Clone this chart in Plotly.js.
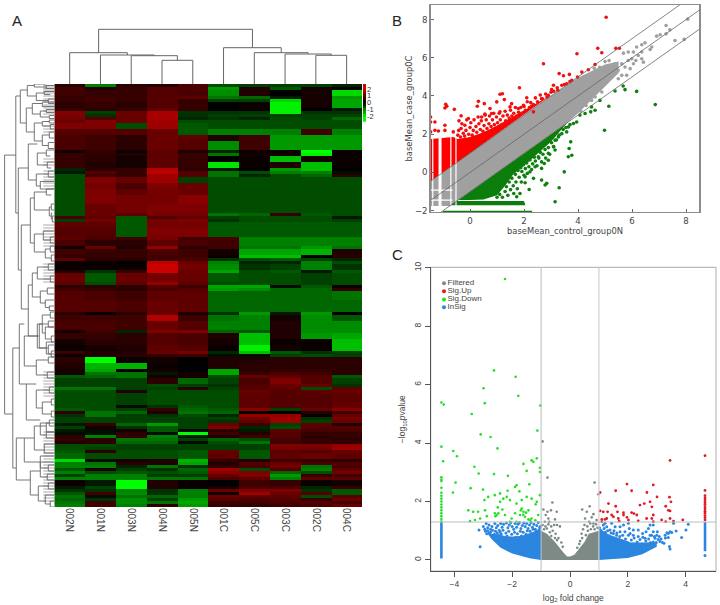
<!DOCTYPE html>
<html><head><meta charset="utf-8">
<script src="https://cdn.plot.ly/plotly-3.0.1.min.js"></script>
<style>html,body{margin:0;padding:0;background:#fff}#c{width:720px;height:605px}</style></head>
<body><div id="c"></div>
<script>
const sampleLabels=['002N','001N','003N','004N','005N','001C','005C','003C','002C','004C'];
// each band: [number of gene rows, ten expression values]
const heatBands=[
[1,[.4,-1,.4,.3,.7,-.6,-.5,-.5,-.5,-.3]],[1,[.6,.3,.5,.8,.7,-1.2,.3,-.7,.2,.1]],[2,[.6,.5,.5,.8,.7,-1.1,.3,0,.2,-1.7]],
[1,[.5,.6,.5,.8,.9,-.9,-.8,-.2,.2,-1.2]],[1,[.5,.6,.5,.8,.5,-.5,-.5,-1.7,.2,-1.3]],[2,[.4,.5,.4,.8,.5,0,.1,-1.9,.2,-1.3]],
[1,[.5,.4,.5,.9,.5,0,.1,-1.9,0,-.2]],[1,[1.2,-.5,1,1.6,-.4,-.4,-.4,-1.9,-.4,-.4]],[1,[1.2,-.4,1,1.6,-.4,-.5,-.5,-.5,-.5,-.5]],
[1,[1.1,.8,1,1.6,-.3,-.4,-.3,-.6,-.5,-.8]],[1,[1,1.2,1,1.5,-.6,-.6,-.6,-.6,-.6,-.6]],[2,[1.2,1.2,-.6,1.5,-.7,-.6,-.6,-.6,-.6,-.6]],
[2,[.8,.8,.8,1,-.7,-1,-1,-1,.6,-1]],[2,[.7,.6,.4,1,.9,.3,.6,-1.2,-1.2,-1.2]],[3,[.7,.6,.4,1,.8,-1.1,.6,-1.2,-1.2,-1.2]],
[1,[.2,.5,.1,.9,.3,-.3,.1,.1,-2,.1]],[1,[.5,.4,.3,.9,.5,-.9,.2,.2,-1.9,.1]],[2,[.5,.4,.2,.9,.5,0,.1,-1.5,.2,.1]],
[2,[.5,.3,.2,.9,.5,-1.8,.1,.3,-1.5,.1]],[1,[-.3,.4,.5,1.7,.4,-.2,0,-1.2,-1.5,0]],[1,[-.2,.8,.5,1.8,.8,-.9,-.6,-1,-1,-.1]],
[1,[-.6,.6,.5,1.5,.8,-.9,-.3,-.6,-.8,.4]],[2,[-.6,1.2,1,1.5,-.5,-.6,-.6,-.6,-.6,-.6]],[2,[-.6,1.1,.7,1.2,1,-.6,-.6,-.6,-.6,-.6]],
[2,[-.6,1.2,.9,1.1,1,-.6,-.6,-.6,-.6,-.6]],[3,[-.6,1.2,1.1,1.1,1.3,-.6,-.6,-.6,-.6,-.6]],[3,[-.6,1,1.1,1.2,1.2,-.6,-.6,-.6,-.6,-.6]],
[1,[-.6,1,.9,1.1,1.1,-.9,-.8,.5,-.7,-.6]],[1,[.7,.9,-.7,.8,.9,-.5,-.6,-.6,-.6,-.2]],[1,[-.5,1.1,-.7,1.1,1.2,-.4,-.6,-.6,-.6,-.5]],
[2,[.9,.9,-.7,1.1,1.1,-.7,-.7,-.7,-.7,-.7]],[3,[.8,.8,-.7,1.2,1.2,-.7,-.7,-.7,-.7,-.7]],[1,[.9,.7,.6,1.1,.6,.7,-1,-1,-1,-1]],
[2,[.7,.4,.4,.9,.7,.6,-1,-1,-1,-1]],[1,[.2,1,.3,1.4,.4,.6,-.9,-.9,-1.2,-.9]],[2,[.6,.5,.5,.7,.6,.2,-1.3,-1.3,-1.4,.3]],
[1,[.5,.5,.5,.6,.6,.1,-1.5,-1.5,0,.4]],[1,[.9,.4,.4,.6,.7,-.4,-.6,-.7,-.5,-.3]],[1,[.1,.1,0,1.8,1,-1,-.3,-.3,-1,-.6]],
[2,[.1,.1,.1,1.9,1.1,-1.1,-.4,-.5,-1,-.4]],[1,[.3,-.4,.5,1.9,1,-1.3,-.6,-.7,-.2,-.7]],[3,[1,-.7,1,1.1,1,-.7,-.6,-.6,-.5,-.6]],
[1,[.9,-.6,.9,1.4,.9,-.6,-.6,-.6,-.5,-.6]],[1,[.4,.4,.4,.8,.6,-1.3,-1.3,-.1,-.7,.1]],[1,[.6,.5,.4,.7,.8,-1.2,-1.1,-.8,-.8,.5]],
[3,[.8,.7,.6,.9,.9,-.8,-.8,-.8,-.8,-.9]],[4,[.8,.8,.7,1,.9,-.8,-.8,-.8,-.8,-.8]],[1,[.4,.1,.4,1,.3,-.4,-1.2,-.2,-1.2,0]],
[2,[.6,.6,.6,1.7,.6,-.9,-1,.2,-1.1,-.7]],[3,[.7,.7,.6,1,.8,-1,-1,.3,-1.1,-1.1]],[1,[.2,.6,-.3,1.2,1.2,-.8,-.7,.3,-1.1,-1.1]],
[2,[.5,.5,.4,.8,.7,.3,-1.5,.3,-1.2,-1.3]],[2,[.2,.4,.4,.8,.7,.2,-1.5,.1,.1,-1.5]],[2,[.1,.2,.3,.9,.8,.1,-1.9,.2,.1,-1.5]],
[1,[.6,.3,.3,1,1.1,-.3,-1.5,-.7,-.4,-.5]],[1,[.1,.3,.4,.5,.6,-.1,-.1,-.5,-.6,-.5]],[2,[.4,-2,.1,.2,0,.3,.3,.4,.4,.4]],
[2,[.3,-1.4,-1.4,.1,0,.3,.4,.4,.4,.4]],[1,[.2,-1.3,.1,.2,0,-1.3,.4,.5,.5,.4]],[1,[.2,-.9,-.9,-.2,.2,-1.3,.5,.7,.6,.4]],
[1,[-.7,-.8,-.9,.2,.2,-.6,1,.9,.8,-.7]],[2,[-.5,-.5,-.5,.4,-.8,-.5,.7,1.2,.8,-.5]],[1,[-.5,-.5,-.5,-.6,-.5,-.4,.8,1,1,-.4]],
[1,[-.9,-.9,-.5,-.5,.4,-.5,.8,.9,-.6,.9]],[1,[-.6,-.6,.3,-.6,-.6,-.6,1,.8,.9,1]],[4,[-.6,-.6,-.5,-.6,-.6,-.6,.9,.8,.8,.9]],
[1,[-.6,-.6,-.1,-.4,-.7,-.6,.9,.8,.8,1]],[1,[-.7,-.6,-.5,.5,-.8,-.7,1.3,-.5,1,1.3]],[1,[.4,-.9,-.8,.3,-.9,-.8,.1,0,.3,.6]],
[1,[-.4,-.9,-.5,-.4,-.6,-.3,1.4,1.4,.1,1]],[1,[-.5,-.5,-.5,-.5,-.5,-.5,1.1,1.5,-.4,1.1]],[1,[-.5,-.5,-.5,-.5,-.5,-.4,.9,1.5,-.5,1]],
[1,[-.2,.5,-.8,-1.2,-.5,1,.6,-.5,.9,.3]],[1,[-.5,.2,-.4,-.7,-.5,1.2,-.3,-.6,.8,.8]],[1,[-.2,-.1,.2,-.7,-.1,.4,-.2,.9,.7,.7]],
[1,[-.1,-.1,.4,-.1,-2,.6,.3,.8,.5,.5]],[1,[.4,-1,.5,-1,-.2,.3,.6,.8,.4,.5]],[1,[.5,.4,-.9,-.9,-.5,-.8,-.6,.7,.5,.4]],
[1,[.3,.4,-.8,-.8,-.1,-.6,-.9,.6,.5,.5]],[1,[-.6,-.6,-.5,-.5,-.5,-.5,-.5,1.2,1.2,1.4]],[1,[-.6,-.5,-.5,-.5,-.5,-.5,-.5,1.1,1.1,1.5]],
[1,[-.7,.4,-.6,-.6,-.7,1,-.7,.9,.8,1]],[2,[-.8,-.6,-.6,-.6,-.7,.9,-.7,.9,1,.9]],[1,[-1.7,-.1,.2,.3,-1.4,.5,.3,.6,.5,.4]],
[1,[-1,-.9,.4,.3,-1.3,.3,.8,1,.7,.8]],[1,[-1,-1,-.3,-.9,-.4,.5,.7,1.1,-.9,.7]],[1,[-.7,.3,-.5,-.4,-.8,1.5,-.6,.8,-1,.9]],
[1,[-1,-.6,-.7,-.6,-.7,1.3,1.2,-.8,-.6,1.1]],[1,[-.5,-1,-1,-.5,-.5,1,1.2,-1.2,.5,.6]],[1,[-1,-1,-1,-.9,-.9,.7,.9,-1,.9,.9]],
[2,[.1,-.2,-2,.3,.1,0,.6,.5,.1,.2]],[1,[-.2,-.5,-2,.3,.1,.2,.7,.7,-.3,.5]],[1,[-.4,-.4,-1,-.4,-1,1,1.2,1.2,-.4,-.7]],
[1,[-.7,.6,-1.1,-.4,-1,.2,1.5,1,.8,-.7]],[1,[-.9,-.1,-.9,-.8,-1,1,.9,.9,-.6,.8]],[1,[-.8,-.4,-1.1,-.5,-1.2,.8,.7,.8,.5,1]],
[1,[-.9,.6,-1.1,-.9,-1.3,.6,.6,.7,.8,.7]],[1,[-1,.6,-1,.4,-1.2,.5,.5,.6,.7,1]]];
const colorbarLevels=[2.6,2.2,1.8,1.4,1,.6,.2,-.2,-.6,-1,-1.4,-1.8,-2.2,-2.6];
const colorbarTicks=[2,1,0,-1,-2];
// sample tree: [height, left position, left child height, right position, right child height]
const sampleTree=[[23.7,3,0,4,0],[28.3,2,0,3.5,23.7],[29,1,0,2.75,28.3],[31.3,0,0,1.875,29],
[28.7,8,0,9,0],[30,7,0,8.5,28.7],[31.3,6,0,7.75,30],[36.3,5,0,6.875,31.3],[54.7,.94,31.3,5.94,36.3]];
// gene tree: [height, top row, top child height, bottom row, bottom child height]
const geneTree=[[49.7,23.7,38.5,110,41.5],[38.5,4,34,43,36],
[34,2,27,13,28],[27,.5,20,4,18],[20,0,8,1,8],[18,3,10,5.5,6],[10,2.5,0,3.5,4],[6,5,0,6.5,0],[8,.5,0,1.5,0],
[28,8,22,16,20],[22,6.5,12,10,14],[12,6,0,7.5,0],[14,9,8,11,5],[8,8.5,0,9.5,0],[5,10.5,0,11.5,0],[20,13,12,19,12],[12,12.5,5,14,4],[5,12,0,13,0],[4,13.5,0,15,0],[12,17,5,20.5,6],[5,16,0,18,0],[6,19.5,0,21.5,0],
[36,28,26,62,33],[26,20,17,32,18],[17,23,8,27,7],[8,22,0,24,4],[7,26,0,28,3],[18,30,6,34,14],[6,29,0,31,0],[14,32.5,0,35,0],
[33,47,24,75,26],[24,38,20,53,20],[20,36,8,42,5],[8,35,0,37,3],[5,41,3,44,3],[3,40,0,42,0],[3,43,2,45,2],[2,44,0,46,0],
[20,50,11,56,9],[11,49,0,52,4],[4,51,0,53,0],[9,55,4,58,3],[4,54,0,56,0],[3,57,0,59,0],
[26,67,22,84,17],[22,63,17,71,14],[17,61,6,65,4],[6,60,0,62,0],[4,64,0,66,0],[14,69,7,73,9],[7,68,0,70,0],[9,72,0,74.5,5],[5,74,0,75.5,0],
[17,80,12,88,6],[12,77,4,83,9],[4,76,0,78,0],[9,81,0,85,3],[3,84,0,86,0],[6,87,0,90,3],[3,89,0,91,0],
[41.5,88,35,128,38],[35,80,30,100,28],[30,84,15,94,18],[15,80,6,88,8],[6,79,0,81,0],[8,86,0,90,0],[18,92,6,97,7],[6,91,0,93,0],[7,96,0,98,0],
[28,100,18,112,14],[18,102,5,108,12],[5,101,0,103,0],[12,106,3,110,3],[3,105,0,107,0],[3,109,0,111,0],[14,113,5,117,8],[5,112,0,114,0],[8,116,0,118,0],
[38,118,30,132,24],[30,118,20,126,14],[20,114,8,122,10],[8,113,0,116,0],[10,120,0,123,0],[14,124,0,128,6],[6,127,0,129,0],
[24,129,14,137,16],[14,126,0,131,7],[7,130,0,132,0],[16,134,6,139,9],[6,133,0,135,0],[9,137,0,140,4],[4,139,0,141,0]];
const geneLeafRows=[0.5,1,1.5,2,2.5,3,4,5,6,7,8,9,10,14,15,16,25,26,27,29,30,31,32,33,34,47,48,49,50,51,52,53,54,60,61,62,63,64,65,66,96,97,98,99,100,101,102,103,104,
116,117,118,119,120,121,122,123,124,125,126,127,128,129,130,131,132,133,134,135,136,137,138,139];
const diagonalLine=[-1.46,8.5];
const foldOffsets=[1,0,-1];
const greyBandOutline=[[-1.46,-.46],[3.2,4.2],[4,4.95],[4.5,5.3],[5,5.65],[5.5,5.8],[5.5,5.2],[5,4.5],[4.5,3.8],[4,3.1],[3.6,2.6],[-.75,-1.75],[-1.46,-1.75]];
const redRegionOutline=[[-1.46,-.46],[-1.46,1.75],[-.62,1.85],[-.45,1.75],[0,1.85],[.5,2.1],[1,2.45],[1.5,2.85],[2,3.25],[2.5,3.65],[3,4.05],[-.2,.8]];
const greenRegionOutline=[[-.75,-1.75],[3.6,2.6],[3,1.6],[2.5,.95],[2,.35],[1.6,-.1],[1.3,-.7],[1,-1.2],[.5,-1.42],[0,-1.44],[-.95,-1.44]];
const greenStripBottom=[[-.7,-1.5],[2,-1.5],[2.05,-1.72],[-.7,-1.72]];
const whiteWideColumn=-1.11;
const whiteColumns=[-1.38,-.71,-.52];
const whiteColumnSpan=[-1.78,1.95];
const whiteRows=[-.93,-1.45];
const whiteRowSpan=[-1.46,-.65];
const lowerStripX=[-1,2.3];
const lowerStripY=-2.05;
const upPointsB=[[5.04,8.12],[3.96,6.21],[4.73,6.5],[4.88,6.26],[5.4,6.5],[5.53,6.5],[2.72,5.69],[3.3,5.17],[3.46,5.06],[3.68,5.13],[3.98,4.99],[4.14,5.25],[4.38,5.37],[4.63,5.65],[1.83,4.43],[1.11,4.09],[1.2,4.12],[3.02,4.33],[3.09,4.56],[3.23,4.43],[3.4,4.56],[3.58,4.64],[3.77,4.82],[-.9,3.57],[-.86,3.46],[-.93,3.37],[-.58,3.3],[.31,3.72],[.27,3.46],[.53,3.6],[.74,3.34],[.99,3.69],[1.27,3.81],[2.1,3.91],[1.54,3.6],[2.65,3.86],[2.9,4.03],[-1.46,2.9],[-1.46,2.64],[-.33,2.96],[-.06,2.82],[-.41,2.7],[-.19,2.47],[-.93,2.47],[-.93,2.2],[-1.3,2.64],[-1.3,2.21],[-1.17,2.17],[-1.46,2.12],[-.62,2.12],[-.33,2.3],[.43,2.9],[.56,3],[.8,3.08],[1.11,3.17],[1.48,3.43],[1.79,3.34],[1.98,3.51],[2.28,3.46],[2.35,3.17],
[-.45,1.95],[-.42,2.2],[-.35,1.85],[-.3,2.55],[-.25,2.05],[-.2,1.9],[-.15,2.2],[-.12,2.75],[-.05,2],[0,2.35],[.03,2.6],[.08,1.95],[.12,2.2],[.15,2.75],[.22,2.4],[.25,2.1],[.3,2.9],[.33,2.55],[.38,2.25],[.42,2.7],[.48,2.15],[.52,2.45],[.55,3.05],[.6,2.75],[.63,2.3],[.7,2.55],[.72,2.95],[.78,2.4],[.83,2.75],[.88,3.1],[.9,2.5],[.98,2.9],[1.02,2.6],[1.08,3.1],[1.12,2.75],[1.18,2.5],[1.22,2.95],[1.3,3.2],[1.32,2.7],[1.38,3],[1.45,2.85],[1.5,3.25],[1.55,2.95],[1.62,3.1],[1.68,3.4],[1.72,2.95],[1.8,3.15],[1.88,3.4],[1.92,3.1],[2,3.45],[2.05,3.25],[2.12,3.7],[2.2,3.4],[2.25,3.65],[2.35,3.55],[2.42,3.9],[2.5,3.7],[2.6,4.05],[2.68,3.85],[2.8,4.1],[2.85,3.95],[3,4.2],[3.1,4.25],[3.25,4.3],[3.5,4.6],[3.7,4.75]];
const downPointsB=[[6.86,3.55],[6.17,4.24],[5.67,4.52],[5.74,4.33],[5.37,4.26],[5.14,3.46],[4.98,2.21],[4.81,3.77],[4.5,3.43],[4.47,3.17],[4.63,3.25],[4.26,3.08],[4.07,3],[3.73,1.6],[3.67,1.25],[3.77,.9],[3.64,.82],[3.49,.03],[3.3,-.8],[3.15,-1.53],[2.84,-.57],[2.78,-.66],[2.65,-.4],[2.35,-.31],[2.04,-.54],[2.19,-.89],[1.85,-1.1],[1.73,-1.27],[3.15,1.17],[2.9,1],[2.9,.64],[2.75,.47],[2.65,.21],[3.27,1.86],[3.15,1.69],[3.4,2.03],[3.58,2.12],[3.64,2.38],[3.83,2.56],[3.95,2.64],[3.09,1.34],[2.53,.82],[2.41,.3],[2.22,.03],[2.04,-.23],
[1,-1.3],[1.1,-1.15],[1.2,-1.3],[1.3,-1],[1.35,-.75],[1.4,-1.2],[1.45,-.5],[1.5,-.9],[1.55,-.3],[1.6,-.7],[1.62,-1.1],[1.68,-.1],[1.7,-.5],[1.75,-.85],[1.78,.1],[1.82,-.25],[1.88,.25],[1.9,-.5],[1.92,.05],[1.98,.4],[2,-.15],[2.05,.2],[2.1,.5],[2.12,-.05],[2.18,.3],[2.22,.65],[2.28,.15],[2.32,.45],[2.38,.8],[2.42,.6],[2.48,.35],[2.55,.75],[2.6,1.05],[2.65,.55],[2.7,.95],[2.78,1.2],[2.8,.75],[2.9,1.3],[2.95,.95],[3.02,1.55],[3.1,1.35],[3.2,1.7],[3.3,1.95],[3.45,2.25],[3.55,2.35],[3.7,2.5]];
const greyPointsB=[[8.06,8.02],[7.26,7.69],[7.4,7.46],[7.26,7.25],[7.04,7.2],[6.91,7.13],[7.93,6.96],[7.59,6.9],[6.48,6.78],[6.36,6.68],[6.17,6.56],[6.73,6.56],[6.67,6.43],[5.86,6.3],[6.05,6.3],[6.36,6.3],[5.68,6.24],[6.23,6.12],[5.99,5.95],[6.36,5.95],[6.14,5.86],[6.42,5.77],[5.86,5.86],[5.62,5.69],[5.37,5.69],[5.74,5.51],[5.49,5.34],[5.25,5.6],[5.93,5.43],[6.05,5.69],[5.37,5.17],[5.62,5.08],[5.8,5.08],[5.49,4.9],[5.25,4.99],[5,4.64],[4.88,4.21],[4.63,3.95],[4.5,3.77],[5.15,5.85],[5,5.8],[4.8,5.5],[4.6,5.45],[4.3,3.5],[4.1,3.2]];
const greyRegionC=[[-1,0],[1,0],[1,1],[.65,.9],[.5,.62],[.3,.36],[.15,.18],[0,.12],[-.1,.12],[-.2,.22],[-.35,.42],[-.55,.65],[-.8,.9],[-1,1]];
const blueLeftC=[[-1,0],[-1.4,.06],[-2,.22],[-2.4,.42],[-2.7,.7],[-2.85,.9],[-2.5,.88],[-2.2,.8],[-1.9,.8],[-1.6,.85],[-1.3,.95],[-1,1.05]];
const blueRightC=[[1,0],[2,.07],[2.5,.2],[3,.45],[3,.6],[2.5,.6],[2.1,.6],[1.7,.75],[1.4,.85],[1.2,.95],[1,1.1]];
const greyPointsC=[[-.95,4.06],[-.78,2.82],[.85,2.65],[.98,2.25],[-.61,1.97],[.68,1.84],[.42,1.73],[.58,1.65],[.81,1.57],[-.92,1.73],[-.78,1.65],[-.66,1.7],[-.46,1.65],[-.84,1.54],[-.75,1.42],[-.87,1.31],[-.72,1.31],[-.52,1.39],[.52,1.42],[.75,1.46],[.92,1.37],[.66,1.31],[.81,1.25],[-.95,1.2],[-.85,1.15],[-.75,1.22],[-.65,1.15],[-.55,1.2],[-.45,1.2],[-.35,1.15],[-.6,1],[-.5,.9],[-.4,.75],[-.3,.6],[.35,.65],[.4,.9],[.45,1.05],[.5,1.2],[.6,1.15],[.7,1.25],[.8,1.15],[.9,1.22],[.95,1.1],[-.9,1.05],[-.7,.95],[-.65,.82],[-.52,.75],[-.45,.68],[-.25,.45],[.25,.42],[.32,.55],[.42,.75],[.55,.85],[.62,1],[.72,1.05],[.85,1.05],[-.8,1.08]];
const redPointsC=[[4.67,3.57],[3.46,3.41],[1.97,2.6],[2.88,2.57],[1.58,2.37],[2.13,2.37],[1.04,2.31],[2.66,2.31],[3.01,2.16],[3.44,2.15],[3.49,1.99],[2.42,1.88],[2.57,1.93],[2.77,1.99],[2.83,1.82],[3.31,1.84],[3.4,1.7],[3.46,1.68],[1.33,1.93],[1.58,1.84],[1.04,1.68],[1.15,1.65],[1.3,1.65],[1.64,1.65],[1.85,1.62],[1.85,1.54],[2.13,1.62],[2.21,1.59],[2.31,1.54],[1.44,1.54],[1.5,1.48],[1.97,1.46],[1.67,1.42],[1.1,1.39],[1.21,1.39],[1.27,1.42],[2.65,1.42],[2.88,1.54],[2.83,1.42],[3.17,1.37],[3.46,1.42],[3.58,1.33],[3.9,1.37],[3.31,1.31],[2.88,1.31],[2.36,1.34],[2.02,1.37],[1.7,1.33],[1.1,1.31],[4.67,2.38],[4.67,2.2],[4.67,2.12],[4.67,2.05],[4.67,1.97],[4.67,1.9],[4.67,1.82],[4.67,1.75],[4.67,1.67],[4.67,1.6],[4.67,1.52],[4.67,1.45],[4.67,1.37]];
const greenPointsC=[[-2.25,9.62],[-2.63,6.49],[-1.88,6.27],[-2.99,5.88],[-1.79,5.62],[-2.95,5.37],[-4.45,5.39],[-4.37,5.32],[-1.03,5.29],[-3.4,5],[-1.13,4.43],[-3.09,4.3],[-2.75,4.21],[-2.51,3.82],[-4.45,3.88],[-4.04,3.73],[-3.91,3.55],[-4.39,3.38],[-1.33,3.41],[-1.27,3.36],[-1.15,3.48],[-1.61,3.29],[-3.31,3.19],[-1.5,3.05],[-1.04,3.16],[-1.04,3.01],[-3.16,2.96],[-2.63,2.94],[-2.15,2.88],[-3.96,2.65],[-1.41,2.59],[-1.85,2.56],[-1.9,2.5],[-3.44,2.46],[-3.01,2.41],[-4.05,2.31],[-2.16,2.37],[-1.75,2.35],[-2.6,2.22],[-2.42,2.28],[-2.31,2.1],[-2.19,2.16],[-2.08,2.05],[-2.96,2.05],[-2.83,2.16],[-2.42,1.99],[-1.5,2.16],[-1.33,2.1],[-1.04,2.22],[-1.15,1.99],[-1.19,1.91],[-2.5,1.8],[-2.34,1.73],[-1.85,1.93],[-1.67,2.05],[-3.52,1.7],[-3.35,1.65],[-3.18,1.65],[-2.94,1.7],[-2.6,1.6],[-2.54,1.54],[-2.25,1.54],[-1.9,1.6],[-1.67,1.76],[-1.61,1.65],[-1.44,1.7],[-1.73,1.54],[-1.56,1.48],[-1.33,1.42],[-1.1,1.54],[-3.46,1.33],[-3.29,1.37],[-3.11,1.42],[-2.88,1.5],[-2.02,1.42],[-1.85,1.31],[-1.44,1.39],[-2.08,1.31],[-1.62,1.55],[-1.52,1.62],[-1.7,1.7],[-2.58,1.5],[-2.48,1.6],[-1.2,1.36],[-1.38,1.36],[-4.45,2.83],[-4.45,2.75],[-4.45,2.7],[-4.45,2.47],[-4.45,2.3],[-4.45,2.2],[-4.45,2.1],[-4.45,2],[-4.45,1.9],[-4.45,1.8],[-4.45,1.7],[-4.45,1.6],[-4.45,1.5],[-4.45,1.4],[-4.45,1.32]];
const bluePointsC=[[-3.15,1.03],[-3.11,.45],[-3,1.15],[-2.95,1.05],[-2.9,1.25],[-2.85,1.1],[-2.8,1.2],[-2.75,1.05],[-2.7,1.15],[-2.6,1.25],[-2.55,1.1],[-2.5,1.18],[-2.45,1.02],[-2.4,1.25],[-2.35,1.12],[-2.3,1.22],[-2.2,1.27],[-2.15,1.1],[-2.1,1.2],[-2.05,1.28],[-2,1.15],[-1.95,1.05],[-1.9,1.25],[-1.85,1.12],[-1.8,1.22],[-1.75,1.28],[-1.7,1.08],[-1.65,1.18],[-1.6,1.27],[-1.55,1.15],[-1.5,1.25],[-1.45,1.08],[-1.4,1.2],[-1.35,1.28],[-1.3,1.12],[-1.25,1.22],[-1.2,1.05],[-1.15,1.18],[-1.1,1.28],[-1.05,1.1],[4.09,1.22],[4.01,1.03],[3.86,.77],[3.67,.99],[3.58,1.26],[3.46,.97],[3.4,.91],[3.52,.94],[3.44,.46],[3.46,.38],[3.25,.57],[3.09,.8],[3.02,.97],[2.88,1.2],[2.77,1.2],[2.71,1.08],[2.63,.97],[2.51,.91],[2.36,1.03],[2.19,1.03],[2.05,1.08],[2.02,1.26],[1.85,1.2],[1.73,1.14],[1.56,1.14],[1.44,1.26],[1.38,1.03],[1.21,1.26],[1.27,1.14],[1.15,1.2],[3.4,.77],[3.35,.93],[3.29,.85],[3.11,.63],[2.94,.74],[2.88,.97],[2.77,.85],[2.6,.74],[2.36,.8],[2.19,.85],[2.08,.91],[1.9,.97],[1.73,.97],[1.61,.85],[1.5,.91],[4.67,.15],
[-2.92,.98],[-2.88,.9],[-2.85,1],[-2.8,.92],[-2.75,.95],[-2.72,.82],[-2.68,1.02],[-2.62,.88],[-2.58,.98],[-2.52,.92],[-2.48,.84],[-2.42,.95],[-2.38,.88],[-2.32,1.02],[-2.28,.78],[-2.22,.92],[-2.18,.82],[-2.12,.98],[-2.08,.75],[-2.02,.88],[-1.98,.7],[-1.92,.95],[-1.88,.78],[-1.82,.9],[-1.78,.72],[-1.72,.98],[-1.68,.82],[-1.62,.95],[-1.58,.75],[-1.52,.88],[-1.48,1],[-1.42,.85],[-1.38,.98],[-1.32,.9],[-1.28,1.05],[-1.22,.88],[-1.18,.98],[-1.12,.92],[-1.08,1.02],[-1.03,1.15],[-2.45,.62],
[1.02,1.1],[1.08,1],[1.12,.88],[1.18,1.08],[1.22,.95],[1.3,1],[1.35,.82],[1.42,.92],[1.47,.75],[1.52,1],[1.58,.7],[1.62,.92],[1.68,.65],[1.72,.8],[1.78,.6],[1.82,.85],[1.88,.55],[1.92,.72],[1.98,.6],[2.02,.85],[2.08,.5],[2.12,.68],[2.18,.55],[2.22,.75],[2.28,.5],[2.32,.62],[2.38,.5],[2.42,.7],[2.48,.55],[2.52,.78],[2.58,.5],[2.62,.65],[2.68,.55],[2.72,.72],[2.78,.6],[2.82,.85],[2.88,.62],[2.92,.8],[2.98,.6],[3.05,.7],[3.15,.72],[3.2,.6],[3,.85],[3.3,.75]];
const blueColumnLeft=[-4.45,.05,1.3];
const blueColumnRight=[4.67,.3,1.3];
const legendNames=['Filtered','Sig.Up','Sig.Down','InSig'];
const legendY=[9.47,9.2,8.92,8.65];
const legendX=-4.36;
const cutoffLog2=[-1,1];
const cutoffP=1.3;

const W=720,H=605;
const dx=(a,b)=>[a/W,b/W], dy=(t,b)=>[1-b/H,1-t/H];
const xs=p=>p.map(a=>a[0]), ys=p=>p.map(a=>a[1]);
const closed=p=>p.concat([p[0]]);
const heatZ=[];heatBands.forEach(([n,v])=>{for(let i=0;i<n;i++)heatZ.push(v)});
const heatScale=[[0,'#00ff00'],[.5,'#000000'],[1,'#d20000']];
const treeLinesV=(tree)=>{const a=[],b=[];tree.forEach(([h,p1,h1,p2,h2])=>{a.push(h1,h,h,h2,null);b.push(p1,p1,p2,p2,null)});return [a,b]};
const [gh,gp]=treeLinesV(geneTree), [sh,sp]=treeLinesV(sampleTree);
const leafH=[],leafP=[];geneLeafRows.forEach(r=>{leafH.push(0,11,null);leafP.push(r,r,null)});
const poly=(p,color,xa,ya)=>({type:'scatter',mode:'lines',x:xs(closed(p)),y:ys(closed(p)),fill:'toself',fillcolor:color,line:{width:0,color},xaxis:xa,yaxis:ya,hoverinfo:'skip'});
const pts=(p,color,size,xa,ya,sym)=>({type:'scatter',mode:'markers',x:xs(p),y:ys(p),marker:{color,size,symbol:sym||'circle',line:{width:0}},xaxis:xa,yaxis:ya,hoverinfo:'skip'});
const seg=(x,y,color,width,xa,ya)=>({type:'scatter',mode:'lines',x,y,line:{color,width},xaxis:xa,yaxis:ya,hoverinfo:'skip',connectgaps:false});

const columnRowsX=[],columnRowsY=[];
whiteColumns.forEach(c=>{columnRowsX.push(c,c,null);columnRowsY.push(whiteColumnSpan[0],whiteColumnSpan[1],null)});
whiteRows.forEach(r=>{columnRowsX.push(whiteRowSpan[0],whiteRowSpan[1],null);columnRowsY.push(r,r,null)});

const data=[
{type:'heatmap',z:heatZ,x:sampleLabels.map((_,i)=>i),y:heatZ.map((_,i)=>i+.5),colorscale:heatScale,zmin:-2,zmax:2,showscale:false,xaxis:'x',yaxis:'y',hoverinfo:'skip'},
seg(sp,sh,'#666',1,'x2','y2'),
seg(leafH,leafP,'#aaa',1,'x3','y3'),
seg(gh,gp,'#666',.9,'x3','y3'),
{type:'heatmap',z:colorbarLevels.map(v=>[v]),y:colorbarLevels,x:[0],colorscale:heatScale,zmin:-2,zmax:2,showscale:false,xaxis:'x4',yaxis:'y4',hoverinfo:'skip'},
poly(redRegionOutline,'#ff0000','x5','y5'),
poly(greenRegionOutline,'#0a7d0a','x5','y5'),
poly(greenStripBottom,'#0a7d0a','x5','y5'),
seg(lowerStripX,[lowerStripY,lowerStripY],'#0a7d0a',1.5,'x5','y5'),
poly(greyBandOutline,'#a0a0a0','x5','y5'),
seg(columnRowsX,columnRowsY,'#ffffff',1.2,'x5','y5'),
seg([whiteWideColumn,whiteWideColumn],whiteColumnSpan,'#ffffff',3,'x5','y5'),
pts(upPointsB,'#f01010',3.6,'x5','y5'),
pts(downPointsB,'#0f7f0f',3.6,'x5','y5'),
pts(greyPointsB,'#a0a0a0',3.6,'x5','y5')
];
foldOffsets.forEach(o=>data.push(seg(diagonalLine,diagonalLine.map(v=>v+o),'#666',.8,'x5','y5')));
data.push(
poly(greyRegionC,'#7d8a86','x6','y6'),
poly(blueLeftC,'#2b86e0','x6','y6'),
poly(blueRightC,'#2b86e0','x6','y6'),
seg([blueColumnLeft[0],blueColumnLeft[0]],[blueColumnLeft[1],blueColumnLeft[2]],'#2b86e0',2.6,'x6','y6'),
seg([blueColumnRight[0],blueColumnRight[0]],[blueColumnRight[1],blueColumnRight[2]],'#2b86e0',2.6,'x6','y6'),
pts(greyPointsC,'#7d8a86',2.6,'x6','y6'),
pts(bluePointsC,'#2b86e0',3,'x6','y6'),
pts(redPointsC,'#e01b24',2.8,'x6','y6'),
pts(greenPointsC,'#22e022',2.6,'x6','y6'),
{type:'scatter',mode:'markers+text',x:legendNames.map(()=>legendX),y:legendY,text:legendNames,textposition:'middle right',textfont:{size:8,color:'#444',family:'Liberation Sans'},marker:{size:4,color:['#7d8a86','#e01b24','#22e022','#2b86e0']},xaxis:'x6',yaxis:'y6',hoverinfo:'skip'},
seg([cutoffLog2[0],cutoffLog2[0]],[-.38,10.02],'#bdbdbd',1,'x6','y6'),
seg([cutoffLog2[1],cutoffLog2[1]],[-.38,10.02],'#cfcfcf',1.2,'x6','y6'),
seg([-4.82,5.05],[cutoffP,cutoffP],'#bdbdbd',1,'x6','y6')
);

const bf={family:'DejaVu Sans',size:8.6,color:'#444'};
const cf={family:'Liberation Sans',size:8.5,color:'#444'};
const layout={width:W,height:H,margin:{l:0,r:0,t:0,b:0},showlegend:false,paper_bgcolor:'#fff',plot_bgcolor:'rgba(0,0,0,0)',
xaxis:{domain:dx(54.3,362),range:[-.5,9.5],tickvals:sampleLabels.map((_,i)=>i),ticktext:sampleLabels,tickangle:90,ticks:'',tickfont:{family:'Liberation Sans',size:10,color:'#444'},showgrid:false,zeroline:false,showline:false,anchor:'y'},
yaxis:{domain:dy(84,507),range:[141,0],visible:false,anchor:'x'},
xaxis2:{domain:dx(54.3,362),range:[-.5,9.5],visible:false,anchor:'y2'},
yaxis2:{domain:dy(24,84),range:[0,60],visible:false,anchor:'x2'},
xaxis3:{domain:dx(0,54.3),range:[54.3,0],visible:false,anchor:'y3'},
yaxis3:{domain:dy(84,507),range:[141,0],visible:false,anchor:'x3'},
xaxis4:{domain:dx(363,366),range:[-.5,.5],visible:false,anchor:'y4'},
yaxis4:{domain:dy(84,121.7),range:[-2.7,2.7],side:'right',anchor:'x4',tickvals:colorbarTicks,ticktext:['2','1','0','-1','-2'],ticks:'',tickfont:{family:'Liberation Sans',size:7.5,color:'#333'},showgrid:false,zeroline:false,showline:false},
xaxis5:{domain:dx(430.7,699.3),range:[-1.456,8.49],anchor:'y5',tickvals:[0,2,4,6,8],ticks:'inside',ticklen:3,tickcolor:'#666',tickfont:bf,showgrid:false,zeroline:false,showline:true,linecolor:'#8c8c8c',linewidth:1.4,mirror:true,title:{text:'baseMean_control_group0N',font:{family:'DejaVu Sans',size:8.4,color:'#444'},standoff:1}},
yaxis5:{domain:dy(5,212),range:[-2.07,8.76],anchor:'x5',tickvals:[-2,0,2,4,6,8],ticktext:['−2','0','2','4','6','8'],ticks:'inside',ticklen:3,tickcolor:'#666',tickfont:bf,showgrid:false,zeroline:false,showline:true,linecolor:'#8c8c8c',linewidth:1.4,mirror:true,title:{text:'baseMean_case_group0C',font:{family:'DejaVu Sans',size:8.4,color:'#444'},standoff:1}},
xaxis6:{domain:dx(430.7,716),range:[-4.82,5.05],anchor:'y6',tickvals:[-4,-2,0,2,4],ticktext:['−4','−2','0','2','4'],ticks:'outside',ticklen:5,tickcolor:'#555',tickfont:cf,showgrid:false,zeroline:false,showline:true,linecolor:'#555',linewidth:1,title:{text:'log<sub>2</sub> fold change',font:cf,standoff:6}},
yaxis6:{domain:dy(267.3,571),range:[-.377,10.02],anchor:'x6',tickvals:[0,2,4,6,8,10],tickangle:-90,ticks:'outside',ticklen:5,tickcolor:'#555',tickfont:cf,showgrid:false,zeroline:false,showline:true,linecolor:'#555',linewidth:1,title:{text:'−log<sub>10</sub>pvalue',font:cf,standoff:6}},
shapes:[{type:'rect',xref:'x6 domain',yref:'y6 domain',x0:0,x1:1,y0:0,y1:1,line:{color:'#bbb',width:1.2},layer:'below'}],
annotations:[['A',10,10],['B',397,10],['C',397,255]].map(([t,x,y])=>({text:t,x:x/W,y:1-y/H,xref:'paper',yref:'paper',showarrow:false,font:{family:'Liberation Sans',size:15,color:'#222'}}))
};
Plotly.newPlot('c',data,layout,{displayModeBar:false,staticPlot:true});
</script></body></html>
